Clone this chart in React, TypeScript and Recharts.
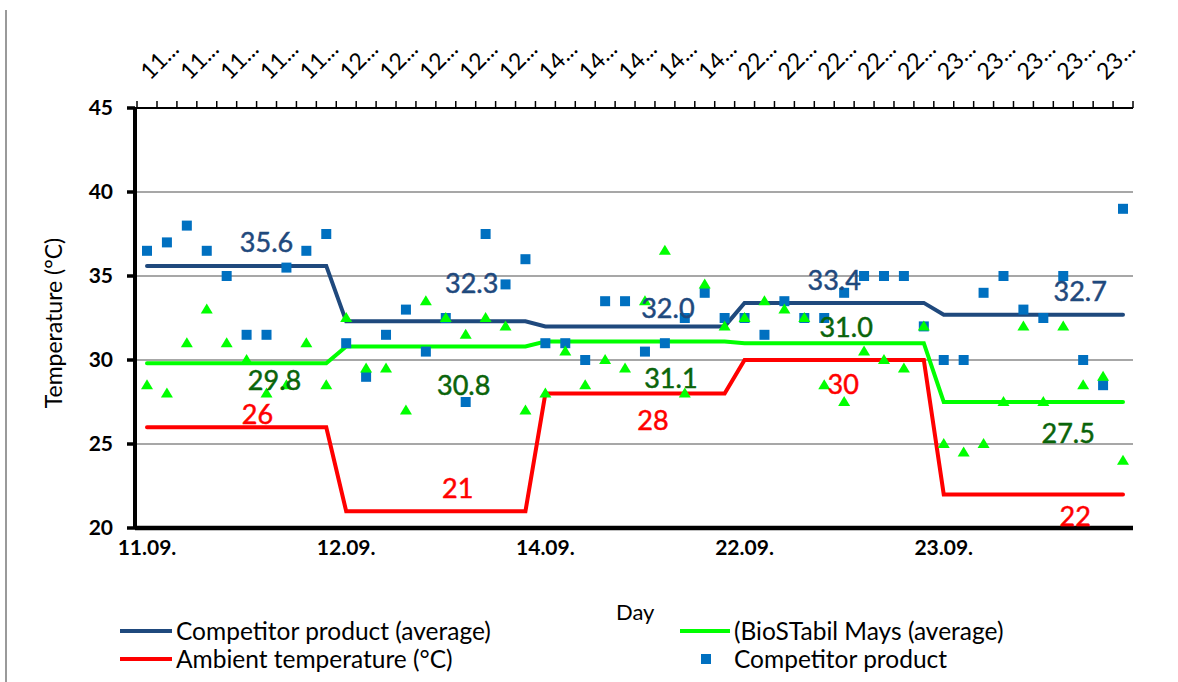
import React from 'react';
import { ComposedChart, Line, Scatter, XAxis, YAxis, CartesianGrid, LabelList } from 'recharts';

// Measurement days, ten readings per day
const DAYS = ['11.09.', '12.09.', '14.09.', '22.09.', '23.09.'];
const READINGS = ['1', '2', '3', '4', '5', '6', '7', '8', '9', '10'];
const categories = DAYS.flatMap(d => READINGS.map(r => `${d} ${r}`));

const Y_TICKS = [20, 25, 30, 35, 40, 45];

// Averages per day
const competitorAvg = [
    35.6, 35.6, 35.6, 35.6, 35.6, 35.6, 35.6, 35.6, 35.6, 35.6,
    32.3, 32.3, 32.3, 32.3, 32.3, 32.3, 32.3, 32.3, 32.3, 32.3,
    32.0, 32.0, 32.0, 32.0, 32.0, 32.0, 32.0, 32.0, 32.0, 32.0,
    33.4, 33.4, 33.4, 33.4, 33.4, 33.4, 33.4, 33.4, 33.4, 33.4,
    32.7, 32.7, 32.7, 32.7, 32.7, 32.7, 32.7, 32.7, 32.7, 32.7,
];
const biostabilAvg = [
    29.8, 29.8, 29.8, 29.8, 29.8, 29.8, 29.8, 29.8, 29.8, 29.8,
    30.8, 30.8, 30.8, 30.8, 30.8, 30.8, 30.8, 30.8, 30.8, 30.8,
    31.1, 31.1, 31.1, 31.1, 31.1, 31.1, 31.1, 31.1, 31.1, 31.1,
    31.0, 31.0, 31.0, 31.0, 31.0, 31.0, 31.0, 31.0, 31.0, 31.0,
    27.5, 27.5, 27.5, 27.5, 27.5, 27.5, 27.5, 27.5, 27.5, 27.5,
];
const ambientTemp = [
    26, 26, 26, 26, 26, 26, 26, 26, 26, 26,
    21, 21, 21, 21, 21, 21, 21, 21, 21, 21,
    28, 28, 28, 28, 28, 28, 28, 28, 28, 28,
    30, 30, 30, 30, 30, 30, 30, 30, 30, 30,
    22, 22, 22, 22, 22, 22, 22, 22, 22, 22,
];

// Single readings
const competitorReadings = [
    36.5, 37.0, 38.0, 36.5, 35.0, 31.5, 31.5, 35.5, 36.5, 37.5,
    31.0, 29.0, 31.5, 33.0, 30.5, 32.5, 27.5, 37.5, 34.5, 36.0,
    31.0, 31.0, 30.0, 33.5, 33.5, 30.5, 31.0, 32.5, 34.0, 32.5,
    32.5, 31.5, 33.5, 32.5, 32.5, 34.0, 35.0, 35.0, 35.0, 32.0,
    30.0, 30.0, 34.0, 35.0, 33.0, 32.5, 35.0, 30.0, 28.5, 39.0,
];
const biostabilReadings = [
    28.5, 28.0, 31.0, 33.0, 31.0, 30.0, 28.0, 28.5, 31.0, 28.5,
    32.5, 29.5, 29.5, 27.0, 33.5, 32.5, 31.5, 32.5, 32.0, 27.0,
    28.0, 30.5, 28.5, 30.0, 29.5, 33.5, 36.5, 28.0, 34.5, 32.0,
    32.5, 33.5, 33.0, 32.5, 28.5, 27.5, 30.5, 30.0, 29.5, 32.0,
    25.0, 24.5, 25.0, 27.5, 32.0, 27.5, 32.0, 28.5, 29.0, 24.0,
];

// where the average labels sit (point index + nudge)
const competitorLabels = [
    { index: 6, dx: 0, dy: -24 },
    { index: 16, dx: 6, dy: -38 },
    { index: 26, dx: 3, dy: -18 },
    { index: 34, dx: 10, dy: -23 },
    { index: 47, dx: -3, dy: -24 },
];
const biostabilLabels = [
    { index: 6, dx: 8, dy: 17 },
    { index: 16, dx: -2, dy: 38 },
    { index: 26, dx: 6, dy: 36 },
    { index: 35, dx: 2, dy: -16 },
    { index: 47, dx: -15, dy: 31 },
];
const ambientLabels = [
    { index: 6, dx: -9, dy: -13 },
    { index: 16, dx: -8, dy: -23 },
    { index: 25, dx: 8, dy: 26 },
    { index: 35, dx: -1, dy: 24 },
    { index: 47, dx: -8, dy: 22 },
];

const FONT = 'Lato, "Open Sans", sans-serif';
const NAVY = '#1F497D';
const GREEN = '#00FF00';
const DARK_GREEN = '#0A640A';
const RED = '#FF0000';
const BLUE = '#0070C0';

const makeLabel = (spots: any[], color: string, digits: number) => (props: any) => {
    const { x, y, index, value } = props;
    const spot = spots.find(s => s.index === index);
    if (!spot || value == null) return null;
    return (
        <text
            x={x + spot.dx}
            y={y + spot.dy + 10}
            fill={color}
            stroke={color}
            strokeWidth={0.5}
            textAnchor="middle"
            fontSize={27}
            fontFamily={FONT}
        >
            {Number(value).toFixed(digits)}
        </text>
    );
};

const SquareMarker = (props: any) => {
    const { cx, cy } = props;
    if (cx == null || cy == null) return null;
    return <rect x={cx - 5} y={cy - 5} width={10} height={10} fill={BLUE} />;
};

const TriangleMarker = (props: any) => {
    const { cx, cy } = props;
    if (cx == null || cy == null) return null;
    return <polygon points={`${cx},${cy - 6} ${cx + 6},${cy + 4} ${cx - 6},${cy + 4}`} fill={GREEN} />;
};

// top axis: tick marks between categories, truncated label every 2nd point
const TopTick = (props: any) => {
    const { x, y, payload, index } = props;
    const half = payload?.offset || 10;
    const day = String(payload.value).slice(0, 2);
    return (
        <g>
            {index === 0 && <line x1={x - half} y1={y} x2={x - half} y2={y - 7} stroke="#000" strokeWidth={1.5} />}
            <line x1={x + half} y1={y} x2={x + half} y2={y - 7} stroke="#000" strokeWidth={1.5} />
            {index % 2 === 0 && (
                <text
                    transform={`translate(${x + 3},${y - 27}) rotate(-45)`}
                    fontSize={23}
                    fontFamily={FONT}
                    fill="#000"
                >
                    {day}...
                </text>
            )}
        </g>
    );
};

const BottomTick = (props: any) => {
    const { x, y, payload } = props;
    return (
        <text x={x} y={y + 27} textAnchor="middle" fontSize={21} fontWeight="bold" fontFamily={FONT} fill="#000">
            {String(payload.value).split(' ')[0]}
        </text>
    );
};

const legendText: React.CSSProperties = {
    position: 'absolute',
    fontFamily: FONT,
    fontSize: 24.5,
    color: '#000',
    lineHeight: '28px',
    whiteSpace: 'nowrap',
};

export default function App() {
    const data = categories.map((cat, i) => ({
        cat,
        competitorAvg: competitorAvg[i],
        biostabilAvg: biostabilAvg[i],
        ambient: ambientTemp[i],
        competitor: competitorReadings[i],
        biostabil: biostabilReadings[i],
    }));

    return (
        <div style={{ position: 'absolute', left: 0, top: 0, width: 1178, height: 682, background: '#fff' }}>
            {/* frame line of the source document */}
            <div style={{ position: 'absolute', left: 5, top: 10, width: 2, height: 672, background: '#9a9a9a' }} />

            <ComposedChart
                width={1178}
                height={682}
                data={data}
                margin={{ top: 0, right: 45, bottom: 114, left: 0 }}
            >
                <CartesianGrid horizontal vertical={false} stroke="#8a8a8a" strokeWidth={1.5} />
                <XAxis
                    xAxisId="top"
                    orientation="top"
                    dataKey="cat"
                    height={108}
                    interval={0}
                    padding={{ left: 12, right: 10 }}
                    tickSize={0}
                    tickMargin={0}
                    tickLine={false}
                    axisLine={{ stroke: '#000', strokeWidth: 2 }}
                    tick={<TopTick />}
                />
                <XAxis
                    dataKey="cat"
                    height={40}
                    interval={9}
                    padding={{ left: 12, right: 10 }}
                    tickSize={0}
                    tickMargin={0}
                    tickLine={false}
                    axisLine={{ stroke: '#000', strokeWidth: 4.5 }}
                    tick={<BottomTick />}
                />
                <YAxis
                    domain={[20, 45]}
                    ticks={Y_TICKS}
                    width={135}
                    tickSize={8}
                    tickMargin={14}
                    tickLine={{ stroke: '#000', strokeWidth: 3.5 }}
                    axisLine={{ stroke: '#000', strokeWidth: 4 }}
                    tick={{ fontSize: 21, fontWeight: 'bold', fill: '#000', fontFamily: FONT }}
                    label={({ viewBox }: any) => (
                        <text
                            transform={`translate(${62},${(viewBox?.y ?? 108) + (viewBox?.height ?? 420) / 2 + 5}) rotate(-90)`}
                            textAnchor="middle"
                            fontSize={23}
                            fontFamily={FONT}
                            fill="#000"
                        >
                            Temperature (°C)
                        </text>
                    )}
                />

                <Line
                    dataKey="ambient"
                    type="linear"
                    stroke={RED}
                    strokeWidth={4}
                    strokeLinecap="round"
                    dot={false}
                    activeDot={false}
                    isAnimationActive={false}
                >
                    <LabelList dataKey="ambient" content={makeLabel(ambientLabels, RED, 0)} />
                </Line>
                <Line
                    dataKey="biostabilAvg"
                    type="linear"
                    stroke={GREEN}
                    strokeWidth={4}
                    strokeLinecap="round"
                    dot={false}
                    activeDot={false}
                    isAnimationActive={false}
                >
                    <LabelList dataKey="biostabilAvg" content={makeLabel(biostabilLabels, DARK_GREEN, 1)} />
                </Line>
                <Line
                    dataKey="competitorAvg"
                    type="linear"
                    stroke={NAVY}
                    strokeWidth={4}
                    strokeLinecap="round"
                    dot={false}
                    activeDot={false}
                    isAnimationActive={false}
                >
                    <LabelList dataKey="competitorAvg" content={makeLabel(competitorLabels, NAVY, 1)} />
                </Line>
                <Scatter dataKey="competitor" shape={<SquareMarker />} isAnimationActive={false} />
                <Scatter dataKey="biostabil" shape={<TriangleMarker />} isAnimationActive={false} />
            </ComposedChart>

            {/* axis title */}
            <div style={{ ...legendText, left: 616, top: 598, fontSize: 22 }}>Day</div>

            {/* legend */}
            <div style={{ position: 'absolute', left: 120, top: 629, width: 52, height: 4, background: NAVY }} />
            <div style={{ ...legendText, left: 176, top: 617 }}>Competitor product (average)</div>
            <div style={{ position: 'absolute', left: 680, top: 629, width: 50, height: 4, background: GREEN }} />
            <div style={{ ...legendText, left: 734, top: 617 }}>(BioSTabil Mays (average)</div>
            <div style={{ position: 'absolute', left: 120, top: 657, width: 52, height: 4, background: RED }} />
            <div style={{ ...legendText, left: 176, top: 645 }}>Ambient temperature (°C)</div>
            <div style={{ position: 'absolute', left: 701, top: 654, width: 10, height: 10, background: BLUE }} />
            <div style={{ ...legendText, left: 734, top: 645 }}>Competitor product</div>
        </div>
    );
}
